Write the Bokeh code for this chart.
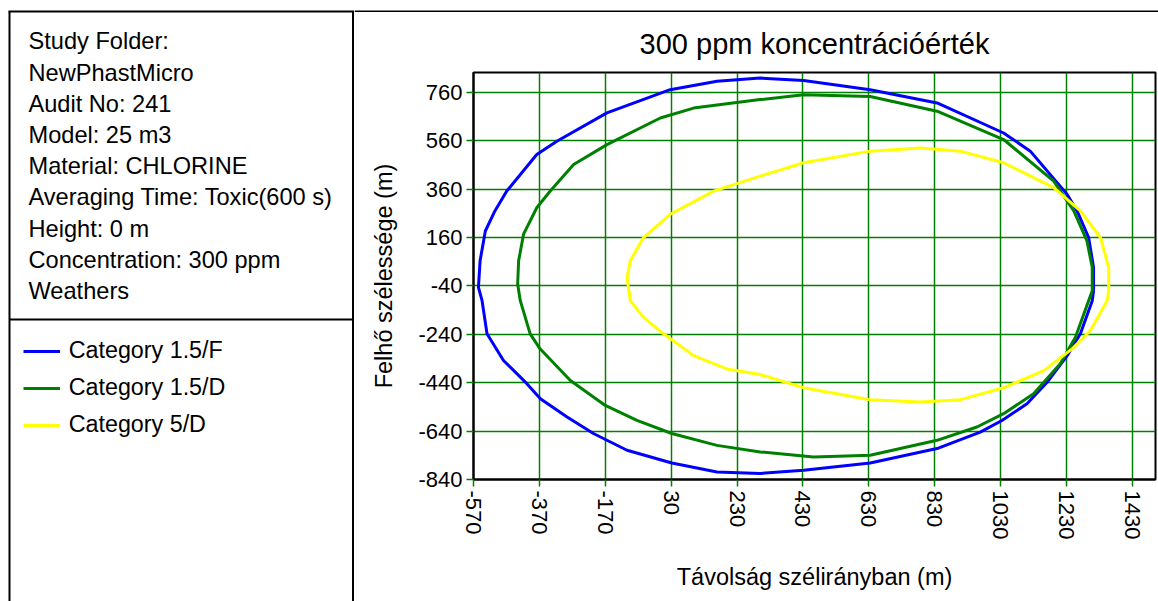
from bokeh.plotting import figure
from bokeh.layouts import row, column
from bokeh.models import Range1d, FixedTicker, Legend, LegendItem
from bokeh.embed import file_html
from bokeh.resources import INLINE
from bokeh.core.properties import value

FONT = "Liberation Sans"

# ---------------- data ----------------
title_text = "300 ppm koncentrációérték"
x_label = "Távolság szélirányban (m)"
y_label = "Felhő szélessége (m)"

info_lines = [
    "Study Folder:",
    "NewPhastMicro",
    "Audit No: 241",
    "Model: 25 m3",
    "Material: CHLORINE",
    "Averaging Time: Toxic(600 s)",
    "Height: 0 m",
    "Concentration: 300 ppm",
    "Weathers",
]

series_names = ["Category 1.5/F", "Category 1.5/D", "Category 5/D"]
series_colors = ["#0000FF", "#008000", "#FFFF00"]

x_ticks = [-570, -370, -170, 30, 230, 430, 630, 830, 1030, 1230, 1430]
y_ticks = [-840, -640, -440, -240, -40, 160, 360, 560, 760]

# Category 1.5/F (blue)
x_15f = [1312, 1312, 1297, 1262, 1232, 1120, 1039, 837, 634, 432, 300, 169, 27, -165, -317,
         -378, -469, -505, -534, -550, -555, -544, -529, -479, -408, -367, -286, -206, -104, 32,
         169, 300, 432, 634, 837, 968, 1034, 1110, 1171, 1232, 1272, 1308, 1312]
y_15f = [-60, 36, 160, 270, 338, 517, 592, 716, 771, 809, 819, 806, 771, 675, 558,
         503, 352, 270, 187, 64, -46, -101, -238, -348, -444, -506, -582, -650, -719, -772,
         -809, -815, -802, -772, -712, -644, -596, -527, -438, -328, -238, -101, -60]

# Category 1.5/D (green)
x_15d = [1308, 1308, 1292, 1252, 1191, 1039, 837, 634, 432, 300, 98, -3, -165, -266, -337,
         -378, -418, -433, -436, -428, -398, -368, -276, -170, -74, 32, 169, 300, 462, 634,
         837, 958, 1039, 1130, 1211, 1257, 1297, 1308]
y_15d = [-60, 36, 146, 270, 393, 565, 682, 743, 750, 730, 695, 654, 544, 462, 352,
         283, 174, 64, -32, -101, -238, -300, -431, -534, -596, -650, -699, -726, -747, -740,
         -678, -623, -568, -486, -362, -252, -101, -60]

# Category 5/D (yellow)
x_5d = [1358, 1358, 1333, 1272, 1191, 1039, 908, 786, 634, 432, 300, 159, 27, -54, -94,
        -104, -94, -54, 7, 98, 199, 300, 432, 634, 786, 908, 1039, 1161, 1247, 1302, 1353, 1358]
y_5d = [-60, 36, 160, 270, 366, 469, 517, 530, 517, 469, 414, 352, 256, 160, 64,
        -5, -101, -170, -238, -328, -383, -406, -461, -510, -520, -510, -461, -390, -300, -225, -101, -60]

series_x = [x_15f, x_15d, x_5d]
series_y = [y_15f, y_15d, y_5d]

GRID_GREEN = "#008000"

# ---------------- main chart ----------------
main = figure(width=804, height=589,
              x_range=Range1d(-570, 1500), y_range=Range1d(-840, 842),
              output_backend="svg", toolbar_location=None,
              min_border_left=119, min_border_right=3,
              min_border_top=59, min_border_bottom=122,
              title=title_text, x_axis_label=x_label, y_axis_label=y_label,
              frame_align=False)

main.background_fill_color = "white"
main.border_fill_color = "white"
main.outline_line_color = "black"
main.outline_line_width = 2
main.outline_line_alpha = 1

main.title.text_font = FONT
main.title.text_font_size = "29px"
main.title.text_font_style = "normal"
main.title.text_color = "black"
main.title.align = "center"
main.title.standoff = 26

main.xaxis.ticker = FixedTicker(ticks=x_ticks)
main.yaxis.ticker = FixedTicker(ticks=y_ticks)
main.xgrid.ticker = FixedTicker(ticks=x_ticks)
main.ygrid.ticker = FixedTicker(ticks=y_ticks)
main.xaxis.major_label_orientation = "vertical"
main.xaxis.major_label_overrides = {t: str(t) for t in x_ticks}
main.yaxis.major_label_overrides = {t: str(t) for t in y_ticks}

for ax in (main.xaxis, main.yaxis):
    ax.axis_line_color = "black"
    ax.axis_line_width = 2
    ax.major_tick_line_color = GRID_GREEN
    ax.major_tick_line_width = 1.5
    ax.major_tick_out = 7
    ax.major_tick_in = 0
    ax.minor_tick_line_color = None
    ax.major_label_text_font = FONT
    ax.major_label_text_font_size = "22px"
    ax.major_label_text_color = "black"
    ax.major_label_standoff = 4
    ax.axis_label_text_font = FONT
    ax.axis_label_text_font_size = "23.5px"
    ax.axis_label_text_font_style = "normal"
    ax.axis_label_text_color = "black"

main.xaxis.axis_label_standoff = 22
main.yaxis.axis_label_standoff = 18

for g in (main.xgrid, main.ygrid):
    g.grid_line_color = GRID_GREEN
    g.grid_line_width = 1.5
    g.grid_line_alpha = 1

for xs, ys, col in zip(series_x, series_y, series_colors):
    main.line(xs, ys, line_color=col, line_width=3, line_join="round")

# ---------------- top strip (frame line) ----------------
strip = figure(width=804, height=12, x_range=Range1d(354, 1158), y_range=Range1d(12, 0),
               output_backend="svg", toolbar_location=None, min_border=0,
               x_axis_location=None, y_axis_location=None, frame_align=False)
strip.grid.visible = False
strip.outline_line_color = None
strip.background_fill_color = "white"
strip.border_fill_color = "white"
strip.segment(x0=[354], y0=[11], x1=[1158], y1=[11], line_color="black", line_width=2)

# ---------------- left info panel ----------------
left = figure(width=354, height=601, x_range=Range1d(0, 354), y_range=Range1d(601, 0),
              output_backend="svg", toolbar_location=None, min_border=0,
              x_axis_location=None, y_axis_location=None)
left.grid.visible = False
left.outline_line_color = None
left.background_fill_color = "white"
left.border_fill_color = "white"

left.segment(x0=[8, 9, 352.5, 9], y0=[11, 11, 11, 319],
             x1=[354, 9, 352.5, 352.5], y1=[11, 601, 601, 319],
             line_color="black", line_width=2)

line_y = [40.8 + 31.2 * i for i in range(len(info_lines))]
left.text(x=[28] * len(info_lines), y=line_y, text=info_lines,
          text_font=value(FONT), text_font_size="23.6px",
          text_baseline="middle", text_align="left", text_color="black")

legend_items = []
for name, col in zip(series_names, series_colors):
    r = left.line(x=[float("nan")], y=[float("nan")], line_color=col, line_width=3)
    legend_items.append(LegendItem(label=name, renderers=[r]))

legend = Legend(items=legend_items, location=(22.7, 159.3),
                label_text_font=FONT, label_text_font_size="23.3px", label_text_color="black",
                glyph_width=37, glyph_height=34, label_height=34, spacing=3,
                padding=0, margin=0, label_standoff=9,
                border_line_color=None, background_fill_alpha=0)
left.add_layout(legend)

layout = row(left, column(strip, main))

open("out.html", "w").write(file_html(layout, INLINE))
